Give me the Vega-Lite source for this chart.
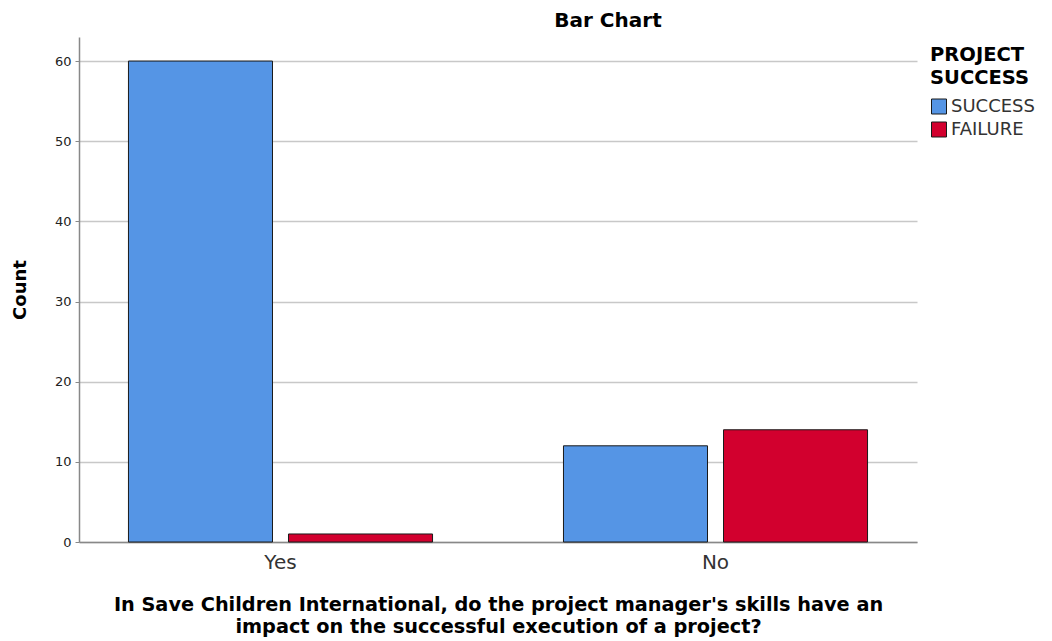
{
  "$schema": "https://vega.github.io/schema/vega-lite/v6.json",
  "autosize": "none",
  "padding": {"left": 79, "top": 37, "right": 135, "bottom": 99},
  "width": 838,
  "height": 505,
  "background": "white",
  "config": {
    "font": "DejaVu Sans",
    "view": {"stroke": null}
  },
  "title": {
    "text": "Bar Chart",
    "fontSize": 20,
    "fontWeight": "bold",
    "color": "#000000",
    "anchor": "middle",
    "dx": 110,
    "offset": 6
  },
  "data": {
    "values": [
      {"answer": "Yes", "outcome": "SUCCESS", "count": 60},
      {"answer": "Yes", "outcome": "FAILURE", "count": 1},
      {"answer": "No", "outcome": "SUCCESS", "count": 12},
      {"answer": "No", "outcome": "FAILURE", "count": 14}
    ]
  },
  "mark": {"type": "bar", "stroke": "#1a1a1a", "strokeWidth": 1},
  "encoding": {
    "x": {
      "field": "answer",
      "type": "nominal",
      "sort": ["Yes", "No"],
      "scale": {"paddingInner": 0.301, "paddingOuter": 0.1137},
      "axis": {
        "title": ["In Save Children International, do the project manager's skills have an", "impact on the successful execution of a project?"],
        "titleFontSize": 19.3,
        "titleFontWeight": "bold",
        "titleColor": "#000000",
        "titleLineHeight": 22,
        "titlePadding": 23,
        "labelAngle": 0,
        "labelFontSize": 20,
        "labelColor": "#333333",
        "labelPadding": 10,
        "ticks": false,
        "domainColor": "#888888",
        "domainWidth": 1.5
      }
    },
    "xOffset": {
      "field": "outcome",
      "type": "nominal",
      "sort": ["SUCCESS", "FAILURE"],
      "scale": {"paddingInner": 0.1, "paddingOuter": 0}
    },
    "y": {
      "field": "count",
      "type": "quantitative",
      "scale": {"domain": [0, 63], "nice": false},
      "axis": {
        "title": "Count",
        "titleFontSize": 18,
        "titleFontWeight": "bold",
        "titleColor": "#000000",
        "titlePadding": 25,
        "values": [0, 10, 20, 30, 40, 50, 60],
        "labelFontSize": 13,
        "labelColor": "#222222",
        "labelPadding": 4,
        "tickSize": 4,
        "tickColor": "#888888",
        "domainColor": "#888888",
        "domainWidth": 1.5,
        "gridColor": "#c8c8c8",
        "gridWidth": 1.5
      }
    },
    "color": {
      "field": "outcome",
      "type": "nominal",
      "sort": ["SUCCESS", "FAILURE"],
      "scale": {"domain": ["SUCCESS", "FAILURE"], "range": ["#5595e5", "#d2002e"]},
      "legend": {
        "title": ["PROJECT", "SUCCESS"],
        "orient": "none",
        "legendX": 851,
        "legendY": 9,
        "titleFontSize": 19.5,
        "titleFontWeight": "bold",
        "titleColor": "#000000",
        "titleLineHeight": 23,
        "titlePadding": 9,
        "labelFontSize": 18,
        "labelColor": "#333333",
        "labelOffset": 3,
        "symbolType": "square",
        "symbolSize": 225,
        "symbolStrokeColor": "#1a1a1a",
        "symbolStrokeWidth": 1,
        "rowPadding": 3
      }
    }
  }
}
